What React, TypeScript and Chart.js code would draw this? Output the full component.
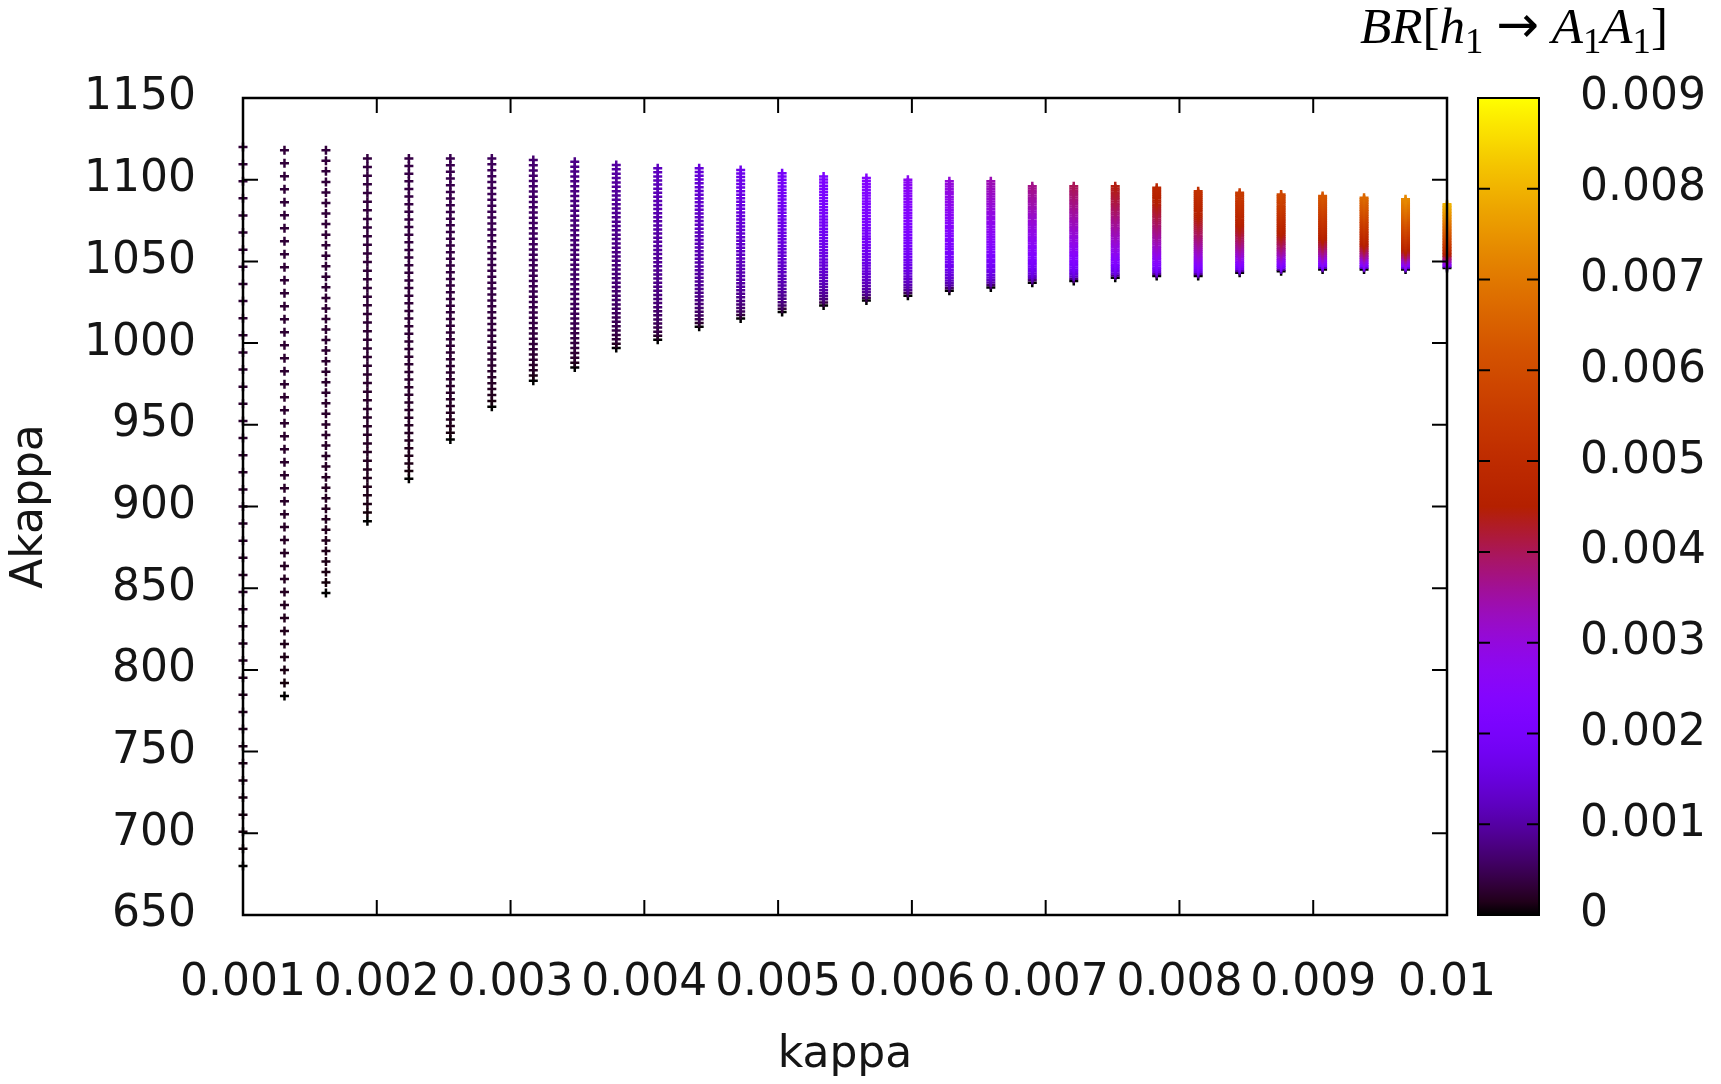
import React, { useEffect, useRef } from "react";
import { Chart, registerables } from "chart.js";

Chart.register(...registerables);

// ---------------- data ----------------
const kappaValues = [
  0.00100, 0.00131, 0.00162, 0.00193, 0.00224, 0.00255, 0.00286, 0.00317, 0.00348, 0.00379,
  0.00410, 0.00441, 0.00472, 0.00503, 0.00534, 0.00566, 0.00597, 0.00628, 0.00659, 0.00690,
  0.00721, 0.00752, 0.00783, 0.00814, 0.00845, 0.00876, 0.00907, 0.00938, 0.00969, 0.01000,
];
const akappaMin = [
  680, 784, 847, 891, 917, 941, 961, 977, 985, 997,
  1002, 1010, 1015, 1019, 1023, 1026, 1029, 1032, 1034, 1037,
  1038, 1040, 1041, 1041, 1043, 1044, 1045, 1045, 1045, 1046,
];
const akappaMax = [
  1120, 1118, 1118, 1113, 1113, 1113, 1113, 1112, 1111, 1109,
  1107, 1107, 1106, 1104, 1102, 1101, 1100, 1099, 1099, 1096,
  1096, 1096, 1095, 1093, 1092, 1091, 1090, 1089, 1088, 1085,
];
// BR[h1 -> A1A1] at the top of each column
const brTop = [
  0.00032, 0.00033, 0.00034, 0.00036, 0.00040, 0.00045, 0.00052, 0.00064, 0.00080, 0.00098,
  0.00120, 0.00145, 0.00170, 0.00195, 0.00220, 0.00245, 0.00272, 0.00305, 0.00338, 0.00368,
  0.00400, 0.00440, 0.00478, 0.00515, 0.00550, 0.00588, 0.00625, 0.00667, 0.00730, 0.00800,
];
// relative BR along a column (position from bottom 0 to top 1)
const brProfilePos = [0, 0.04, 0.1, 0.2, 0.3, 0.4, 0.5, 0.6, 0.7, 0.8, 0.9, 1];
const brProfileVal = [0, 0.3, 0.42, 0.55, 0.64, 0.71, 0.77, 0.82, 0.87, 0.92, 0.96, 1];
const pointsPerColumn = 43;

const xTickValues = [0.001, 0.002, 0.003, 0.004, 0.005, 0.006, 0.007, 0.008, 0.009, 0.01];
const xTickLabels = ["0.001", "0.002", "0.003", "0.004", "0.005", "0.006", "0.007", "0.008", "0.009", "0.01"];
const yTickValues = [650, 700, 750, 800, 850, 900, 950, 1000, 1050, 1100, 1150];
const cbTickValues = [0, 0.001, 0.002, 0.003, 0.004, 0.005, 0.006, 0.007, 0.008, 0.009];
const cbTickLabels = ["0", "0.001", "0.002", "0.003", "0.004", "0.005", "0.006", "0.007", "0.008", "0.009"];
const cbMin = 0;
const cbMax = 0.009;

// ---------------- helpers ----------------
const FONT = "'DejaVu Sans', sans-serif";
const SERIF = "'Liberation Serif', 'DejaVu Serif', serif";

function paletteColor(br: number): string {
  const x = Math.min(1, Math.max(0, (br - cbMin) / (cbMax - cbMin)));
  const r = Math.sqrt(x);
  const g = x * x * x;
  const b = Math.max(0, Math.sin(2 * Math.PI * x));
  return `rgb(${Math.round(r * 255)},${Math.round(g * 255)},${Math.round(b * 255)})`;
}

function profileAt(t: number): number {
  for (let i = 1; i < brProfilePos.length; i++) {
    if (t <= brProfilePos[i]) {
      const a = brProfilePos[i - 1];
      const b = brProfilePos[i];
      const u = (t - a) / (b - a);
      return brProfileVal[i - 1] + u * (brProfileVal[i] - brProfileVal[i - 1]);
    }
  }
  return brProfileVal[brProfileVal.length - 1];
}

function buildPoints() {
  const pts: { x: number; y: number }[] = [];
  const colors: string[] = [];
  kappaValues.forEach((k, c) => {
    for (let i = 0; i < pointsPerColumn; i++) {
      const t = i / (pointsPerColumn - 1);
      pts.push({ x: k, y: akappaMin[c] + t * (akappaMax[c] - akappaMin[c]) });
      colors.push(paletteColor(brTop[c] * profileAt(t)));
    }
  });
  return { pts, colors };
}

const framePlugin = {
  id: "gnuplotFrame",
  afterDatasetsDraw(chart: any) {
    const ctx = chart.ctx;
    const { left, right, top, bottom } = chart.chartArea;
    const xs = chart.scales.x;
    const ys = chart.scales.y;
    ctx.save();
    ctx.strokeStyle = "#000";
    ctx.lineWidth = 2;
    ctx.beginPath();
    xTickValues.forEach((v) => {
      const px = xs.getPixelForValue(v);
      ctx.moveTo(px, bottom);
      ctx.lineTo(px, bottom - 15);
      ctx.moveTo(px, top);
      ctx.lineTo(px, top + 15);
    });
    yTickValues.forEach((v) => {
      const py = ys.getPixelForValue(v);
      ctx.moveTo(left, py);
      ctx.lineTo(left + 15, py);
      ctx.moveTo(right, py);
      ctx.lineTo(right - 15, py);
    });
    ctx.stroke();
    ctx.lineWidth = 2.5;
    ctx.strokeRect(left, top, right - left, bottom - top);
    ctx.restore();
  },
};

const colorbarPlugin = {
  id: "colorbar",
  afterDraw(chart: any) {
    const ctx = chart.ctx;
    const cb = chart.scales.cb;
    const x0 = 1478;
    const x1 = 1539;
    const yTop = cb.getPixelForValue(cbMax);
    const yBot = cb.getPixelForValue(cbMin);
    ctx.save();
    const grad = ctx.createLinearGradient(0, yBot, 0, yTop);
    const n = 60;
    for (let i = 0; i <= n; i++) {
      grad.addColorStop(i / n, paletteColor(cbMin + (i / n) * (cbMax - cbMin)));
    }
    ctx.fillStyle = grad;
    ctx.fillRect(x0, yTop, x1 - x0, yBot - yTop);
    ctx.strokeStyle = "#000";
    ctx.lineWidth = 2;
    ctx.beginPath();
    cbTickValues.forEach((v) => {
      const py = cb.getPixelForValue(v);
      ctx.moveTo(x0, py);
      ctx.lineTo(x0 + 12, py);
      ctx.moveTo(x1, py);
      ctx.lineTo(x1 - 12, py);
    });
    ctx.stroke();
    ctx.strokeRect(x0, yTop, x1 - x0, yBot - yTop);

    // colorbar title  BR[h1 → A1A1]
    const parts: { t: string; it?: boolean; sub?: boolean; pad?: number; f?: string }[] = [
      { t: "BR", it: true },
      { t: "[" },
      { t: "h", it: true },
      { t: "1", sub: true },
      { t: "→", pad: 0.25, f: "'DejaVu Sans', sans-serif" },
      { t: "A", it: true },
      { t: "1", sub: true },
      { t: "A", it: true },
      { t: "1", sub: true },
      { t: "]" },
    ];
    const layout = (S: number) => {
      let w = 0;
      const items = parts.map((p) => {
        const size = p.sub ? S * 0.72 : S;
        ctx.font = `${p.it ? "italic " : ""}${size}px ${p.f || SERIF}`;
        const pad = (p.pad || 0) * S;
        const tw = ctx.measureText(p.t).width;
        const item = { ...p, size, x: w + pad, font: ctx.font };
        w += tw + 2 * pad;
        return item;
      });
      return { w, items };
    };
    let S = 42;
    let res = layout(S);
    S = S * (308 / res.w);
    res = layout(S);
    const baseX = 1360;
    const baseY = 43;
    ctx.fillStyle = "#000";
    ctx.textBaseline = "alphabetic";
    ctx.textAlign = "left";
    res.items.forEach((it: any) => {
      ctx.font = it.font;
      let dy = it.sub ? S * 0.2 : 0;
      if (it.t === "→") dy = -S * 0.02;
      ctx.fillText(it.t, baseX + it.x, baseY + dy);
    });
    ctx.restore();
  },
};

function noEdgePadding(s: any) {
  s.paddingTop = 0;
  s.paddingBottom = 0;
  s.paddingLeft = 0;
  s.paddingRight = 0;
}

export default function App() {
  const ref = useRef<HTMLCanvasElement | null>(null);

  useEffect(() => {
    document.body.style.margin = "0";
    const canvas = ref.current;
    if (!canvas) return;
    const { pts, colors } = buildPoints();
    const tickColor = "#151515";
    const chart = new Chart(canvas, {
      type: "scatter",
      data: {
        datasets: [
          {
            data: pts,
            pointStyle: "cross",
            pointRadius: 4.5,
            pointBorderWidth: 2.5,
            pointBorderColor: colors,
            pointBackgroundColor: colors,
            borderColor: colors,
            clip: false,
          } as any,
        ],
      },
      options: {
        responsive: false,
        maintainAspectRatio: false,
        devicePixelRatio: 1,
        animation: false,
        events: [],
        layout: { padding: { top: 98, left: 0, right: 0, bottom: 0 } },
        plugins: { legend: { display: false }, tooltip: { enabled: false } },
        scales: {
          x: {
            type: "linear",
            position: "bottom",
            min: 0.001,
            max: 0.01,
            grid: { display: false, drawTicks: false, tickLength: 0 },
            border: { display: false },
            afterBuildTicks: (s: any) => {
              s.ticks = xTickValues.map((v) => ({ value: v }));
            },
            afterFit: (s: any) => {
              s.height = 169;
              noEdgePadding(s);
            },
            ticks: {
              autoSkip: false,
              maxRotation: 0,
              minRotation: 0,
              padding: 42,
              color: tickColor,
              font: { family: FONT, size: 44 },
              callback: (_v: any, i: number) => xTickLabels[i],
            },
            title: {
              display: true,
              text: "kappa",
              color: tickColor,
              font: { family: FONT, size: 44 },
              padding: { top: 0, bottom: 2 },
            },
          },
          y: {
            type: "linear",
            position: "left",
            min: 650,
            max: 1150,
            grid: { display: false, drawTicks: false, tickLength: 0 },
            border: { display: false },
            afterBuildTicks: (s: any) => {
              s.ticks = yTickValues.map((v) => ({ value: v }));
            },
            afterFit: (s: any) => {
              s.width = 243;
              noEdgePadding(s);
            },
            ticks: {
              autoSkip: false,
              padding: 47,
              color: tickColor,
              font: { family: FONT, size: 44 },
              callback: (v: any) => String(v),
            },
            title: {
              display: true,
              text: "Akappa",
              color: tickColor,
              font: { family: FONT, size: 44 },
              padding: { top: 4, bottom: 0 },
            },
          },
          cb: {
            type: "linear",
            position: "right",
            min: cbMin,
            max: cbMax,
            grid: { display: false, drawTicks: false, tickLength: 0 },
            border: { display: false },
            afterBuildTicks: (s: any) => {
              s.ticks = cbTickValues.map((v) => ({ value: v }));
            },
            afterFit: (s: any) => {
              s.width = 274;
              noEdgePadding(s);
            },
            ticks: {
              autoSkip: false,
              padding: 133,
              color: tickColor,
              font: { family: FONT, size: 44 },
              callback: (_v: any, i: number) => cbTickLabels[i],
            },
          },
        },
      } as any,
      plugins: [framePlugin, colorbarPlugin],
    });
    return () => chart.destroy();
  }, []);

  return (
    <canvas
      ref={ref}
      width={1721}
      height={1084}
      style={{ display: "block", width: 1721, height: 1084 }}
    />
  );
}
